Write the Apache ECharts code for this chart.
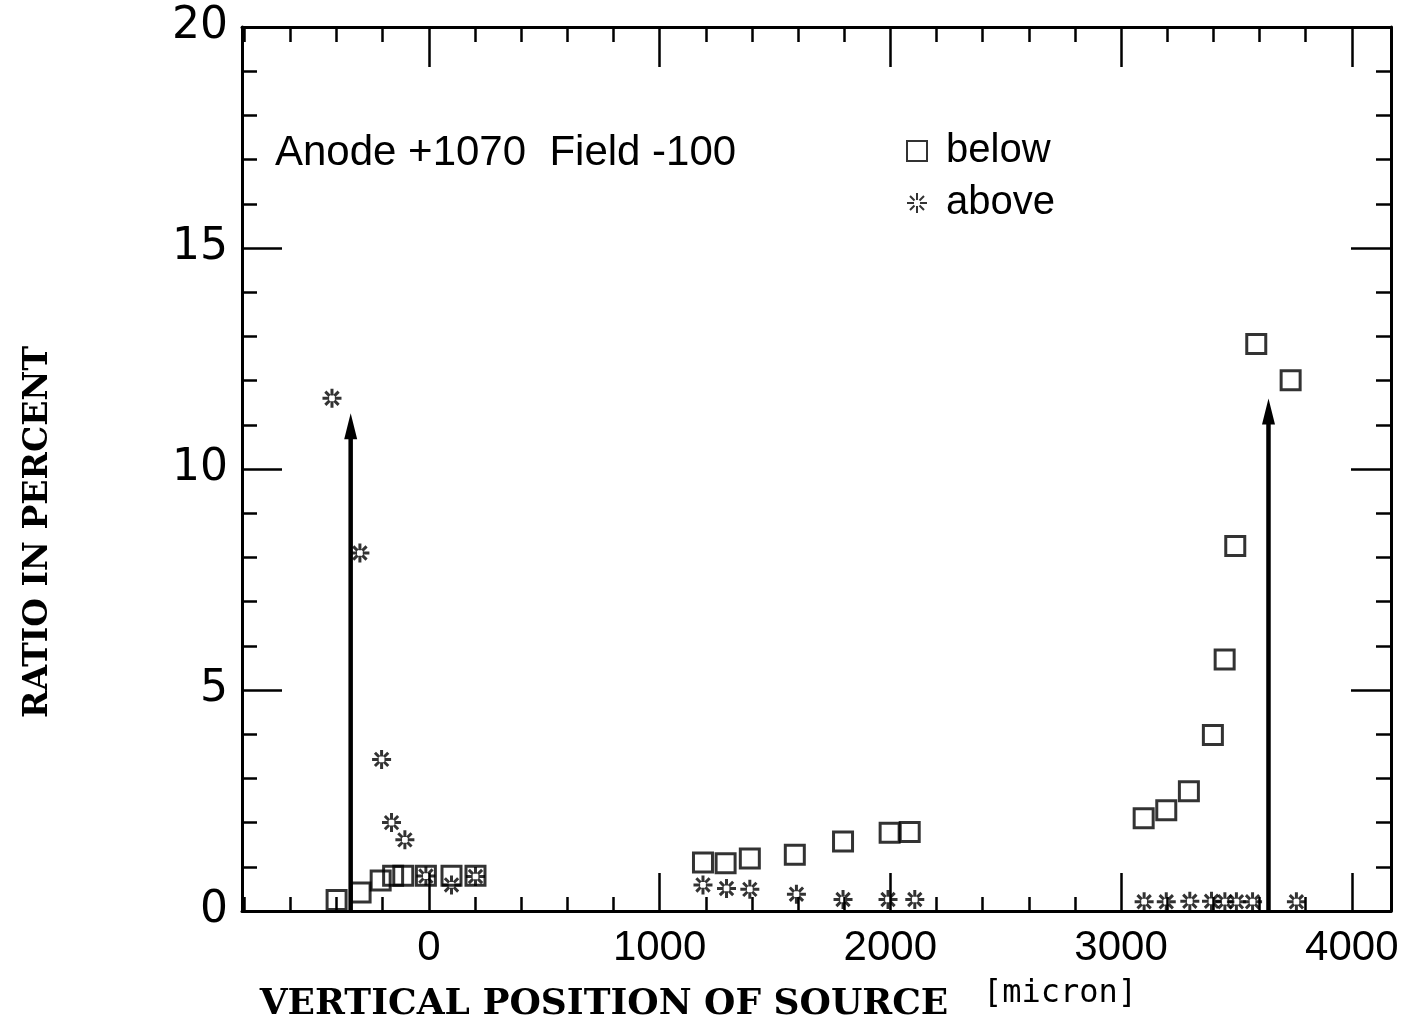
<!DOCTYPE html>
<html>
<head>
<meta charset="utf-8">
<title>Ratio in percent vs vertical position of source</title>
<script src="https://cdn.jsdelivr.net/npm/echarts@6/dist/echarts.min.js"></script>
<style>
  html, body { margin: 0; padding: 0; background: #fff; }
  #chart { width: 1411px; height: 1026px; }
</style>
</head>
<body>
<div id="chart"></div>
<script>
// data: x = vertical position of source [micron], y = ratio [%]
const belowX = [-400, -296, -209, -155, -111, -13, 98, 202, 1188, 1286, 1391, 1586, 1795, 1997, 2084,
  3098, 3196, 3294, 3398, 3449, 3495, 3586, 3735]
const belowY = [0.25, 0.42, 0.69, 0.80, 0.80, 0.80, 0.80, 0.80, 1.10, 1.08, 1.19, 1.27, 1.57, 1.77, 1.79,
  2.10, 2.28, 2.71, 3.98, 5.69, 8.26, 12.83, 12.01]

const aboveX = [-420, -299, -205, -162, -104, -13, 98, 202, 1188, 1290, 1391, 1593, 1795, 1990, 2106,
  3100, 3196, 3298, 3392, 3450, 3500, 3570, 3760]
const aboveY = [11.6, 8.1, 3.43, 2.0, 1.61, 0.79, 0.59, 0.78, 0.59, 0.51, 0.49, 0.38, 0.26, 0.26, 0.26,
  0.21, 0.21, 0.22, 0.22, 0.21, 0.21, 0.21, 0.21]

// the two vertical arrows (value = centre of the arrow head)
const arrowX = [-339, 3639]
const arrowTop = [10.97, 11.3]

// axis ticks
const xMajorTicks = [0, 1000, 2000, 3000, 4000]
const xMinorTicks = [-800, -600, -400, -200, 0, 200, 400, 600, 800, 1000, 1200, 1400, 1600, 1800, 2000,
  2200, 2400, 2600, 2800, 3000, 3200, 3400, 3600, 3800, 4000]
const xMin = -810
const xMax = 4170

const starPath = 'path://M10,0 L10,7 M10,13 L10,20 M0,10 L7,10 M13,10 L20,10 ' +
  'M3,3 L7.5,7.5 M12.5,12.5 L17,17 M17,3 L12.5,7.5 M7.5,12.5 L3,17'
const arrowHead = 'path://M0,0 L6,24 L-6,24 Z'

const chart = echarts.init(document.getElementById('chart'), null, { renderer: 'canvas' })

const lineStyle = { color: '#000', width: 3 }
const labelFont = 'Liberation Sans'

// x axes: major ticks + labels, minor ticks, top major, top minor
const makeX = (position, ticks, len, withLine, withLabel) => ({
  type: 'value',
  position,
  min: xMin,
  max: xMax,
  axisLine: { show: withLine, onZero: false, lineStyle },
  axisTick: { show: true, inside: true, length: len, customValues: ticks, lineStyle: { color: '#000', width: 2.5 } },
  axisLabel: withLabel
    ? {
        show: true, customValues: xMajorTicks, margin: 16, color: '#000', fontSize: 42, fontFamily: labelFont,
        formatter: v => String(v)
      }
    : { show: false },
  splitLine: { show: false }
})

const makeY = (position, withLabel) => ({
  type: 'value',
  position,
  min: 0,
  max: 20,
  interval: 5,
  axisLine: { show: true, onZero: false, lineStyle },
  axisTick: { show: true, inside: true, length: 40, lineStyle: { color: '#000', width: 2.5 } },
  minorTick: { show: true, splitNumber: 5, length: 15, lineStyle: { color: '#000', width: 2.5 } },
  axisLabel: withLabel
    ? { show: true, margin: 14, color: '#000', fontSize: 44, fontFamily: 'DejaVu Sans' }
    : { show: false },
  splitLine: { show: false },
  minorSplitLine: { show: false }
})

const zip = (xs, ys) => xs.map((x, i) => [x, ys[i]])

const arrowSeries = arrowX.map((x, i) => ({
  type: 'line',
  xAxisIndex: 0,
  yAxisIndex: 0,
  silent: true,
  z: 1,
  lineStyle: { color: '#000', width: 4.5 },
  itemStyle: { color: '#000' },
  data: [
    { value: [x, 0], symbol: 'none' },
    { value: [x, arrowTop[i]], symbol: arrowHead, symbolSize: [13, 26] }
  ]
}))

chart.setOption({
  animation: false,
  backgroundColor: '#fff',
  grid: { left: 242, right: 20, top: 27, bottom: 115, containLabel: false, outerBoundsMode: 'none' },
  xAxis: [
    makeX('bottom', xMajorTicks, 38, true, true),
    makeX('bottom', xMinorTicks, 14, false, false),
    makeX('top', xMajorTicks, 40, true, false),
    makeX('top', xMinorTicks, 15, false, false)
  ],
  yAxis: [makeY('left', true), makeY('right', false)],
  legend: {
    data: ['below', 'above'],
    orient: 'vertical',
    left: 906,
    top: 131,
    itemGap: 12,
    itemWidth: 20,
    itemHeight: 20,
    padding: 0,
    textStyle: { fontSize: 40, lineHeight: 40, color: '#000', fontFamily: labelFont, padding: [0, 0, 0, 14] }
  },
  graphic: [
    {
      type: 'text', left: 275, top: 132,
      style: { text: 'Anode +1070  Field -100', font: '42px "Liberation Sans"', fill: '#000' }
    },
    {
      type: 'text', left: 983, top: 978,
      style: { text: '[micron]', font: '32px "DejaVu Sans Mono"', fill: '#000' }
    },
    {
      type: 'text', x: 604, y: 1005,
      style: {
        text: 'VERTICAL POSITION OF SOURCE', font: 'bold 36px "DejaVu Serif"', fill: '#000',
        align: 'center', verticalAlign: 'middle'
      }
    },
    {
      type: 'text', x: 38, y: 532, rotation: Math.PI / 2,
      style: {
        text: 'RATIO IN PERCENT', font: 'bold 33px "DejaVu Serif"', fill: '#000',
        align: 'center', verticalAlign: 'middle'
      }
    }
  ],
  series: [
    ...arrowSeries,
    {
      name: 'below',
      type: 'scatter',
      xAxisIndex: 0,
      yAxisIndex: 0,
      symbol: 'rect',
      symbolSize: 19,
      z: 3,
      itemStyle: { color: 'transparent', borderColor: '#000', borderWidth: 3 },
      data: zip(belowX, belowY)
    },
    {
      name: 'above',
      type: 'scatter',
      xAxisIndex: 0,
      yAxisIndex: 0,
      symbol: starPath,
      symbolSize: 19,
      z: 3,
      itemStyle: { color: 'transparent', borderColor: '#000', borderWidth: 3 },
      data: zip(aboveX, aboveY)
    }
  ]
})
</script>
</body>
</html>
